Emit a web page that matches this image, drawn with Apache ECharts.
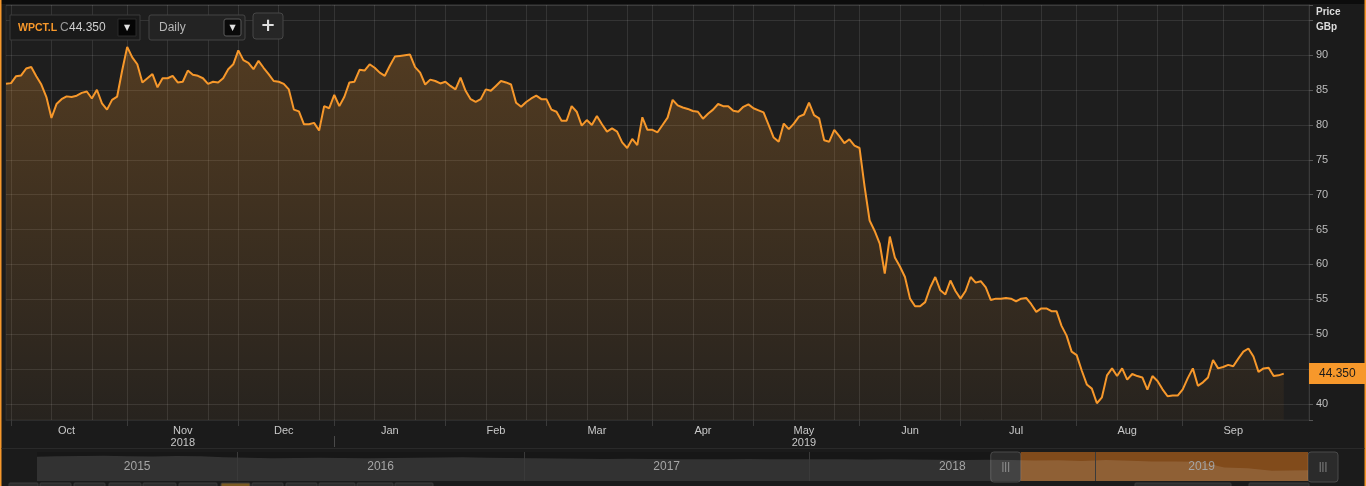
<!DOCTYPE html>
<html><head><meta charset="utf-8">
<script src="https://cdn.jsdelivr.net/npm/echarts@6/dist/echarts.min.js"></script>
<style>html,body{margin:0;padding:0;background:#1b1b1b;overflow:hidden}#c{width:1366px;height:486px}</style>
</head><body><div id="c"></div>
<script>
// ---------- data ----------
const ticker = 'WPCT.L';
const lastText = '44.350';
const startDate = '2018-09-28';
const padDays = 5;
const ukHolidays = ['2018-12-25','2018-12-26','2019-01-01','2019-04-19','2019-04-22','2019-05-06','2019-05-27','2019-08-26'];
const monthNames = ['Jan','Feb','Mar','Apr','May','Jun','Jul','Aug','Sep','Oct','Nov','Dec'];
const prices = [
 85.9,86.0,87.0,87.1,88.1,88.3,87.0,85.8,84.0,81.0,83.0,83.7,84.1,84.0,84.2,84.6,84.8,83.8,85.05,83.1,82.2,83.6,84.05,87.8,91.2,89.7,88.7,86.1,86.7,87.3,85.4,86.7,86.7,87.05,86.1,86.2,87.8,87.2,87.05,86.7,85.9,86.2,86.1,
 86.7,88.0,88.7,90.7,89.3,88.9,88.0,89.2,88.2,87.3,86.3,86.2,85.9,85.1,82.2,81.95,80.1,80.1,80.3,79.2,82.7,82.4,84.3,82.7,84.05,86.1,86.2,87.9,87.8,88.7,88.2,87.5,87.05,88.5,89.8,89.9,90.0,90.1,88.3,87.5,
 85.8,86.5,86.3,85.95,86.2,85.6,85.1,86.8,84.9,83.7,83.3,83.7,85.1,84.9,85.6,86.3,86.1,85.8,83.2,82.6,83.3,83.8,84.2,83.7,83.7,82.2,81.9,80.6,80.6,82.7,81.9,79.9,80.7,80.0,81.3,80.1,79.05,79.5,79.05,77.5,76.7,78.0,77.1,
 81.1,79.3,79.3,78.95,80.0,81.05,83.6,82.8,82.5,82.3,82.0,81.9,80.9,81.6,82.2,83.0,82.7,82.7,82.05,81.9,82.6,82.95,82.4,82.1,81.8,80.0,78.2,77.6,80.2,79.4,80.2,81.2,81.5,83.2,81.4,80.95,77.8,77.6,79.3,78.4,77.4,77.95,77.05,
 76.7,71.2,66.3,64.8,63.0,58.7,64.0,61.0,59.7,58.2,55.1,54.0,54.0,54.6,56.7,58.2,56.3,55.7,57.7,56.2,55.1,56.2,58.2,57.4,57.6,56.7,54.9,55.1,55.1,55.2,55.1,54.7,55.1,55.2,54.3,53.2,53.7,53.7,53.3,53.3,
 51.2,49.8,47.5,47.0,44.8,42.8,42.2,40.1,40.95,44.1,45.1,44.0,45.1,43.5,44.3,44.0,43.8,42.05,44.0,43.3,42.1,41.1,41.2,41.2,42.1,43.7,45.1,42.6,43.1,43.8,46.3,45.1,45.3,45.6,45.4,46.5,47.5,47.95,46.8,44.6,45.1,45.2,44.0,44.1,44.35
];
const yTicksHidden = [95];
// navigator (long history, monthly samples)
const navDates = ['2015-04-20','2015-05-15','2015-06-15','2015-07-15','2015-08-15','2015-09-15','2015-10-15','2015-11-15','2015-12-15',
 '2016-01-15','2016-02-15','2016-03-15','2016-04-15','2016-05-15','2016-06-15','2016-07-15','2016-08-15','2016-09-15','2016-10-15','2016-11-15','2016-12-15',
 '2017-01-15','2017-02-15','2017-03-15','2017-04-15','2017-05-15','2017-06-15','2017-07-15','2017-08-15','2017-09-15','2017-10-15','2017-11-15','2017-12-15',
 '2018-01-15','2018-02-15','2018-03-15','2018-04-15','2018-05-15','2018-06-15','2018-07-15','2018-08-15','2018-09-15','2018-10-15','2018-11-15','2018-12-15',
 '2019-01-15','2019-02-15','2019-03-15','2019-04-15','2019-05-15','2019-06-15','2019-07-15','2019-08-15','2019-09-30'];
const navValues = [102,104,105,106,104,103,105,104,100,
 98,96,97,98,97,96,97,98,99,100,98,97,
 96,95,94,93,94,93,92,91,92,93,92,91,
 92,91,90,91,90,89,88,89,88,86,87,84,
 88,85,82,82,81,57,54,43,45];
const navStart = '2015-04-20', navEnd = '2019-09-30';
const navYears = ['2015','2016','2017','2018','2019'];
const selStart = '2018-09-28', selEnd = '2019-09-30';

// ---------- derived ----------
function buildDates(n){const out=[];const d=new Date(startDate+'T00:00:00Z');
 while(out.length<n){const dow=d.getUTCDay();const s=d.toISOString().slice(0,10);
  if(dow!==0&&dow!==6&&ukHolidays.indexOf(s)<0)out.push(s);d.setUTCDate(d.getUTCDate()+1);}return out;}
const dates = buildDates(prices.length+padDays);
const nData = prices.length;
const runs=[];dates.forEach((s,i)=>{const m=s.slice(0,7);if(!runs.length||runs[runs.length-1].m!==m)runs.push({m,first:i,last:i});else runs[runs.length-1].last=i;});
const runOf=[];runs.forEach(r=>{for(let i=r.first;i<=r.last;i++)runOf[i]=r;});
const monthStart=new Set(runs.slice(1).map(r=>r.first).filter(i=>i<nData));
const labelAt={};runs.forEach(r=>{if(r.last-r.first>=10)labelAt[Math.round((r.first+r.last)/2)]=r.m;});
const yRuns=[];dates.forEach((s,i)=>{const y=s.slice(0,4);if(!yRuns.length||yRuns[yRuns.length-1].y!==y)yRuns.push({y,first:i,last:i});else yRuns[yRuns.length-1].last=i;});
const yearLabelMonth={};yRuns.forEach(r=>{yearLabelMonth[dates[Math.round((r.first+r.last)/2)].slice(0,7)]=r.y;});
const yearStart=new Set(yRuns.slice(1).map(r=>r.first));
const gridIdx=i=>{const r=runOf[i];return i>0&&i<nData&&r.first>0&&((i-r.first)%8===0);};

const navSeries = navDates.map((d,i)=>[d,navValues[i]]);
const yearAreas = navYears.map(y=>{
  const a = (y+'-01-01')<navStart?navStart:y+'-01-01';
  const b = (y+'-12-31')>navEnd?navEnd:(+y+1)+'-01-01';
  return [{name:y,xAxis:a,itemStyle:{color:'rgba(0,0,0,0)'}},{xAxis:b}];
});
const yearLines = navYears.slice(1).map(y=>({xAxis:y+'-01-01'}));

const ORANGE='#f7982b';
const chart = echarts.init(document.getElementById('c'),null,{renderer:'canvas'});
const option = {
 backgroundColor:'#1b1b1b',
 animation:false,
 grid:[
  {left:6,right:57,top:5,bottom:66,show:true,backgroundColor:'#1e1e1e',borderColor:'#2c2c2c',borderWidth:1},
  {left:37,right:58,top:452,bottom:5,show:true,backgroundColor:'#171717',borderWidth:0}
 ],
 xAxis:[
  {type:'category',gridIndex:0,data:dates,boundaryGap:false,
   axisLine:{show:true,lineStyle:{color:'#2c2c2c'}},
   axisTick:{show:true,interval:(i)=>monthStart.has(i),length:6,lineStyle:{color:'#3a3a3a'}},
   axisLabel:{interval:(i)=>labelAt[i]!==undefined,color:'#c8c8c8',fontSize:11,fontFamily:'Liberation Sans',margin:5,lineHeight:12,
     formatter:(v,i)=>{const m=labelAt[i];if(!m)return '';const t=monthNames[+m.slice(5,7)-1];return yearLabelMonth[m]?t+'\n'+yearLabelMonth[m]:t;}},
   splitLine:{show:true,interval:(i)=>gridIdx(i),lineStyle:{color:'rgba(255,255,255,0.1)',width:1}}
  },
  {type:'category',gridIndex:0,data:dates,boundaryGap:false,position:'bottom',offset:16,
   axisLine:{show:false},axisLabel:{show:false},splitLine:{show:false},
   axisTick:{show:true,interval:(i)=>yearStart.has(i),length:11,lineStyle:{color:'#4a4a4a'}}
  },
  {type:'time',gridIndex:1,min:navStart,max:navEnd,show:false,splitLine:{show:false}}
 ],
 yAxis:[
  {type:'value',gridIndex:0,position:'right',min:37.7,max:97.2,minInterval:5,maxInterval:5,
   axisLine:{show:true,lineStyle:{color:'#3a3a3a'}},
   axisTick:{show:true,length:4,lineStyle:{color:'#555'}},
   axisLabel:{color:'#bdbdbd',fontSize:11,fontFamily:'Liberation Sans',margin:7,
     formatter:v=>(Math.abs(v%5)<1e-6&&yTicksHidden.indexOf(v)<0)?String(v):''},
   splitLine:{show:true,lineStyle:{color:'rgba(255,255,255,0.1)'}}
  },
  {type:'value',gridIndex:1,min:0,max:122,show:false,splitLine:{show:false}}
 ],
 series:[
  {type:'line',xAxisIndex:0,yAxisIndex:0,data:prices,symbol:'none',z:3,clip:false,
   lineStyle:{color:ORANGE,width:2},
   areaStyle:{color:new echarts.graphic.LinearGradient(0,0,0,1,[{offset:0,color:'rgba(247,152,43,0.34)'},{offset:1,color:'rgba(247,152,43,0.06)'}])},
   markLine:{silent:true,symbol:['none','none'],animation:false,
     lineStyle:{color:'rgba(0,0,0,0)',width:0.01,type:'solid'},
     label:{show:true,position:'end',distance:0,formatter:lastText,backgroundColor:ORANGE,color:'#1a1a1a',fontSize:12,fontFamily:'Liberation Sans',padding:[4,6,4,10],width:41,height:13},
     emphasis:{disabled:true},
     data:[{yAxis:prices[prices.length-1]}]}
  },
  {type:'line',xAxisIndex:2,yAxisIndex:1,data:navSeries,symbol:'none',z:2,
   lineStyle:{width:0},areaStyle:{color:'rgba(255,255,255,0.17)',origin:'start'},
   markArea:{silent:true,label:{show:true,position:'inside',color:'#9a9a9a',fontSize:12,fontFamily:'Liberation Sans'},
     data:[[{xAxis:selStart,itemStyle:{color:'rgba(200,110,30,0.6)'},label:{show:false}},{xAxis:selEnd}]].concat(yearAreas)},
   markLine:{silent:true,symbol:'none',label:{show:false},lineStyle:{color:'#3a3a3a',type:'solid',width:1},data:yearLines}
  }
 ],
 graphic:[]
};
chart.setOption(option);

// ---------- UI chrome ----------
const hx0 = chart.convertToPixel({xAxisIndex:2},selStart);
const hx1 = chart.convertToPixel({xAxisIndex:2},selEnd);
function handle(x){return {type:'group',x:x,y:452,children:[
  {type:'rect',shape:{x:0,y:0,width:30,height:30,r:3},style:{fill:'#2b2b2b',stroke:'#4a4a4a',lineWidth:1}},
  {type:'text',style:{x:15,y:15,text:'|||',fill:'#8a8a8a',font:'11px Liberation Sans',textAlign:'center',textVerticalAlign:'middle'}}]};}
const g = [
 {type:'rect',shape:{x:0,y:0,width:1366,height:4},style:{fill:'#0c0c0c'},z:10},
 {type:'rect',shape:{x:0,y:0,width:1.5,height:486},style:{fill:ORANGE},z:10},
 {type:'rect',shape:{x:1364.5,y:0,width:1.5,height:486},style:{fill:ORANGE},z:10},
 // ticker box
 {type:'rect',shape:{x:10,y:15,width:130,height:25},style:{fill:'#1a1a1a',stroke:'#3a3a3a',lineWidth:1},z:10},
 {type:'text',style:{x:18,y:28,text:ticker,fill:ORANGE,font:'bold 10.5px Liberation Sans',textVerticalAlign:'middle'},z:11},
 {type:'text',style:{x:60,y:28,text:'C',fill:'#9a9a9a',font:'12px Liberation Sans',textVerticalAlign:'middle'},z:11},
 {type:'text',style:{x:69,y:28,text:lastText,fill:'#cfcfcf',font:'12px Liberation Sans',textVerticalAlign:'middle'},z:11},
 {type:'rect',shape:{x:118,y:19,width:18,height:17},style:{fill:'#050505',stroke:'#2a2a2a'},z:11},
 {type:'text',style:{x:127,y:27.5,text:'▼',fill:'#e0e0e0',font:'8px DejaVu Sans',textAlign:'center',textVerticalAlign:'middle'},z:12},
 // Daily box
 {type:'rect',shape:{x:149,y:15,width:96,height:25,r:2},style:{fill:'#232323',stroke:'#454545',lineWidth:1},z:10},
 {type:'text',style:{x:159,y:27.5,text:'Daily',fill:'#b5b5b5',font:'12px Liberation Sans',textVerticalAlign:'middle'},z:11},
 {type:'rect',shape:{x:224,y:19,width:17,height:17,r:2},style:{fill:'#0a0a0a',stroke:'#5a5a5a'},z:11},
 {type:'text',style:{x:232.5,y:27.5,text:'▼',fill:'#e0e0e0',font:'8px DejaVu Sans',textAlign:'center',textVerticalAlign:'middle'},z:12},
 // plus button
 {type:'rect',shape:{x:253,y:13,width:30,height:26,r:3},style:{fill:'#262626',stroke:'#474747',lineWidth:1},z:10},
 {type:'text',style:{x:268,y:26,text:'+',fill:'#dedede',font:'bold 18px DejaVu Sans',textAlign:'center',textVerticalAlign:'middle'},z:11},
 // Price / GBp
 {type:'text',style:{x:1316,y:12,text:'Price',fill:'#dcdcdc',font:'bold 10px Liberation Sans',textVerticalAlign:'middle'},z:11},
 {type:'text',style:{x:1316,y:27,text:'GBp',fill:'#dcdcdc',font:'bold 10px Liberation Sans',textVerticalAlign:'middle'},z:11},
 // separator band line
 {type:'rect',shape:{x:1.5,y:448,width:1363,height:1},style:{fill:'#2a2a2a'},z:10},
 handle(hx0-30), handle(hx1)
];
// bottom button strip (partially visible)
[[9,29],[40,31],[74,31],[109,32],[143,33],[179,38],[221,29],[252,31],[286,31],[319,36],[357,36],[395,38],[1135,96],[1249,60]].forEach((b,k)=>{
 g.push({type:'rect',shape:{x:b[0],y:483,width:b[1],height:4,r:1},style:{fill:k===6?'#7a5a22':'#2e2e2e',stroke:'#3c3c3c'},z:10});
});
chart.setOption({graphic:g});
</script></body></html>
